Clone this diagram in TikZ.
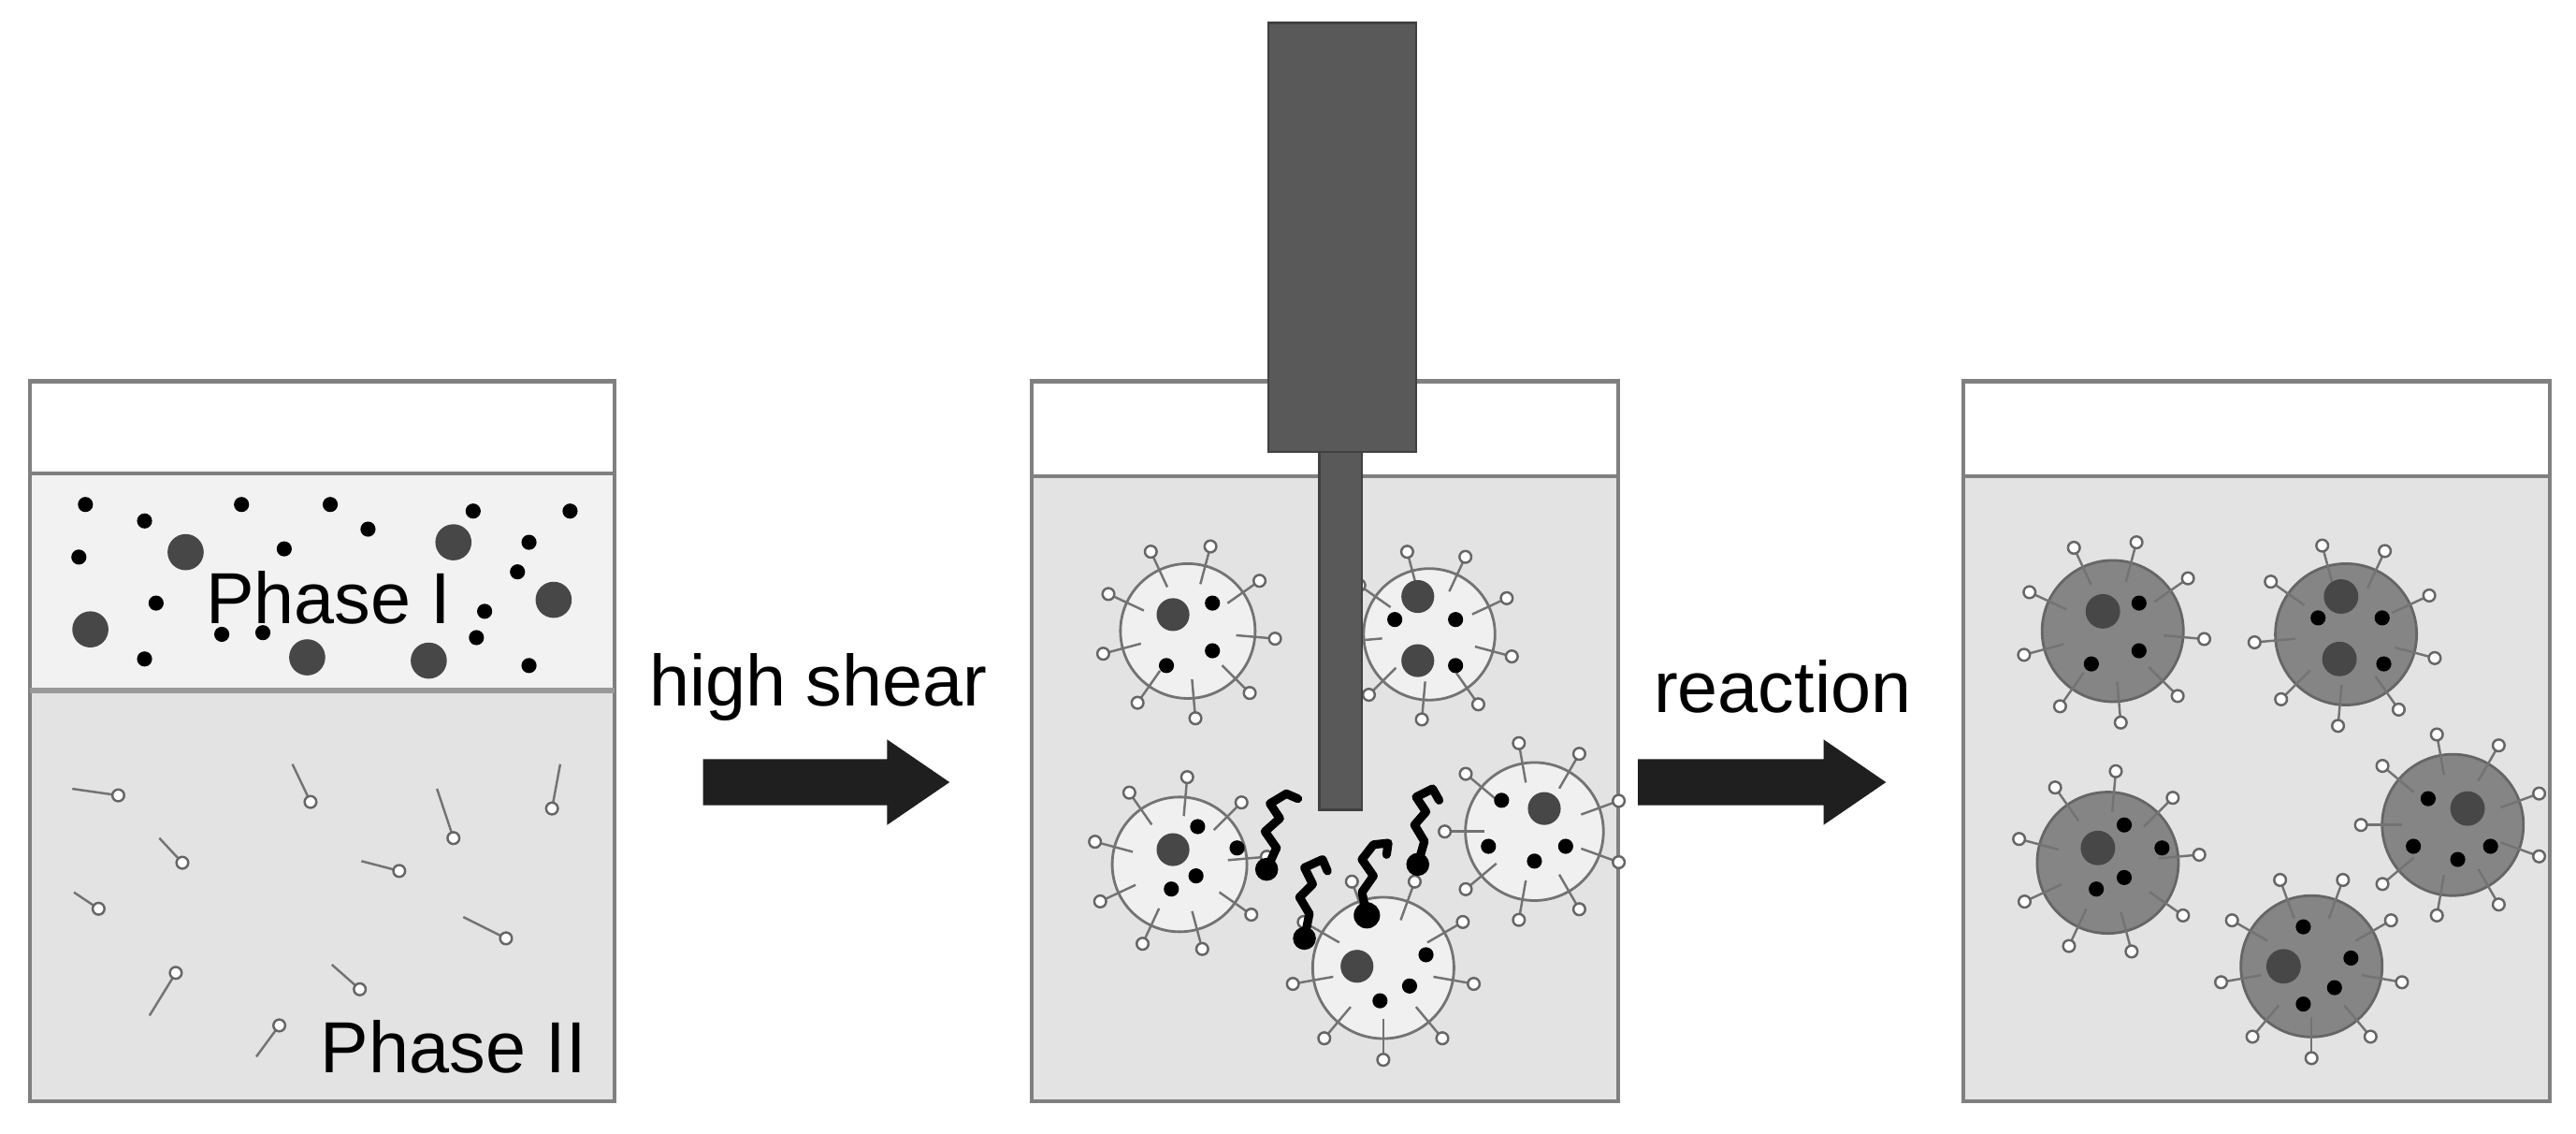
\documentclass[tikz,border=0pt]{standalone}
\usepackage{fontspec}
\setmainfont{Liberation Sans}
\begin{document}
\begin{tikzpicture}[x=0.017564cm,y=-0.017564cm,
  boxline/.style={draw=black!50,line width=1.2pt},
  phasetwo/.style={fill=black!11},
  phaseone/.style={fill=black!5},
  sdot/.style={fill=black},
  bdot/.style={fill=black!72},
  surf/.style={draw=black!55,line width=0.7pt},
  head/.style={draw=black!60,fill=white,line width=0.7pt},
  probe/.style={fill=black!65,draw=black!75,line width=0.8pt},
  blk/.style={fill=black!88},
  lbl/.style={font=\fontsize{22}{26}\selectfont,inner sep=0pt},
  rip/.style={draw=black,line width=2.6pt,line join=round,line cap=round}]
\useasboundingbox (0,0) rectangle (1568,689.5);
\fill[white] (0,0) rectangle (1568,689.5);
% droplet macro: cx cy R angle-offset fill outline
\newcommand\mydrop[6]{%
 \begin{scope}[shift={(#1,#2)}]
  \filldraw[fill=#5,draw=#6,line width=0.8pt] (0,0) circle (#3);
  \foreach \a in {0,40,...,320}{
   \draw[surf] (\a+#4:#3*0.72) -- (\a+#4:#3*1.22);
   \draw[head] (\a+#4:#3*1.3) circle (3.6);}
 \end{scope}}
% ---------- left box ----------
\fill[white] (18,232) rectangle (374,288);
\fill[phaseone] (18,288) rectangle (374,420);
\fill[phasetwo] (18,420) rectangle (374,670);
\draw[boxline] (18,232) rectangle (374,670);
\draw[boxline] (18,288) -- (374,288);
\draw[draw=black!40,line width=1.8pt] (18,420) -- (374,420);
\foreach \p in {(52,307),(88,317),(147,307),(201,307),(224,322),(173,334),(288,311),(347,311),(48,339),(322,330),(315,348),(95,367),(295,372),(135,386),(160,385),(290,388),(88,401),(322,405)}
  \fill[sdot] \p circle (4.6);
\foreach \p in {(113,336),(276,330),(337,365),(55,383),(187,400),(261,402)}
  \fill[bdot] \p circle (11);
\node[lbl] (p1) at (200,364) {Phase I};
\foreach \h/\t in {{(72,484)}/{(44,480)},{(189,488)}/{(178,465)},{(336,492)}/{(341,465)},{(276,510)}/{(266,480)},{(111,525)}/{(97,510)},{(243,530)}/{(220,524)},{(60,553)}/{(45,543)},{(308,571)}/{(282,558)},{(107,592)}/{(91,618)},{(219,602)}/{(202,587)},{(170,624)}/{(156,643)}}{
  \draw[surf] \t -- \h;
  \draw[head] \h circle (3.6);}
\node[lbl] (p2) at (276,637) {Phase II};
% ---------- arrow 1 ----------
\node[lbl] (t1) at (498,418) {high shear};
\fill[blk] (428,462) -- (540,462) -- (540,450) -- (578,476) -- (540,502) -- (540,490) -- (428,490) -- cycle;
% ---------- middle box ----------
\fill[white] (628,232) rectangle (985,290);
\fill[phasetwo] (628,290) rectangle (985,670);
\draw[boxline] (628,232) rectangle (985,670);
\draw[boxline] (628,290) -- (985,290);
\mydrop{723}{384}{41}{5}{black!6}{black!55}
\fill[bdot] (714,374) circle (10);
\foreach \p in {(738,367),(738,396),(710,405)} \fill[sdot] \p circle (4.6);
\mydrop{870}{386}{40}{15}{black!6}{black!55}
\fill[bdot] (863,363) circle (10); \fill[bdot] (863,402) circle (10);
\foreach \p in {(849,377),(886,377),(886,405)} \fill[sdot] \p circle (4.6);
\mydrop{718}{526}{41}{-5}{black!6}{black!55}
\fill[bdot] (714,517) circle (10);
\foreach \p in {(729,503),(753,516),(728,533),(713,541)} \fill[sdot] \p circle (4.6);
\mydrop{934}{506}{42}{20}{black!6}{black!55}
\fill[bdot] (940,492) circle (10);
\foreach \p in {(914,487),(906,515),(953,515),(934,524)} \fill[sdot] \p circle (4.6);
\mydrop{842}{589}{43}{10}{black!6}{black!55}
\fill[bdot] (826,588) circle (10);
\foreach \p in {(868,581),(858,600),(840,609)} \fill[sdot] \p circle (4.6);
% probe
\fill[probe] (772,14) rectangle (862,275);
\fill[probe] (803,275) rectangle (829,493);
% ripped surfactants
\draw[rip] (771,529) -- (777,516) -- (770,506) -- (779,498) -- (773,489) -- (783,483) -- (790,486);
\fill (771,529) circle (7);
\draw[rip] (794,571) -- (797,556) -- (791,546) -- (799,538) -- (794,528) -- (805,523) -- (808,530);
\fill (794,571) circle (7);
\draw[rip] (832,557) -- (829,543) -- (836,533) -- (829,523) -- (836,514) -- (845,513) -- (844,520);
\fill (832,557) circle (8);
\draw[rip] (863,526) -- (867,512) -- (861,502) -- (868,494) -- (862,485) -- (872,480) -- (876,487);
\fill (863,526) circle (7);
% ---------- arrow 2 ----------
\node[lbl] (t2) at (1085,418) {reaction};
\fill[blk] (997,462) -- (1110,462) -- (1110,450) -- (1148,476) -- (1110,502) -- (1110,490) -- (997,490) -- cycle;
% ---------- right box ----------
\fill[white] (1195,232) rectangle (1552,290);
\fill[phasetwo] (1195,290) rectangle (1552,670);
\draw[boxline] (1195,232) rectangle (1552,670);
\draw[boxline] (1195,290) -- (1552,290);
\mydrop{1286}{384}{43}{5}{black!48}{black!60}
\fill[black!72] (1280,372) circle (10.5);
\foreach \p in {(1302,367),(1302,396),(1273,404)} \fill[sdot] \p circle (4.6);
\mydrop{1428}{386}{43}{15}{black!48}{black!60}
\fill[black!72] (1425,363) circle (10.5); \fill[black!72] (1424,401) circle (10.5);
\foreach \p in {(1411,376),(1450,376),(1451,404)} \fill[sdot] \p circle (4.6);
\mydrop{1283}{525}{43}{-5}{black!48}{black!60}
\fill[black!72] (1277,516) circle (10.5);
\foreach \p in {(1293,502),(1316,516),(1293,534),(1276,541)} \fill[sdot] \p circle (4.6);
\mydrop{1493}{502}{43}{20}{black!48}{black!60}
\fill[black!72] (1502,492) circle (10.5);
\foreach \p in {(1478,486),(1469,515),(1516,515),(1496,523)} \fill[sdot] \p circle (4.6);
\mydrop{1407}{588}{43}{10}{black!48}{black!60}
\fill[black!72] (1390,588) circle (10.5);
\foreach \p in {(1402,564),(1431,583),(1421,601),(1402,611)} \fill[sdot] \p circle (4.6);
\end{tikzpicture}
\end{document}
